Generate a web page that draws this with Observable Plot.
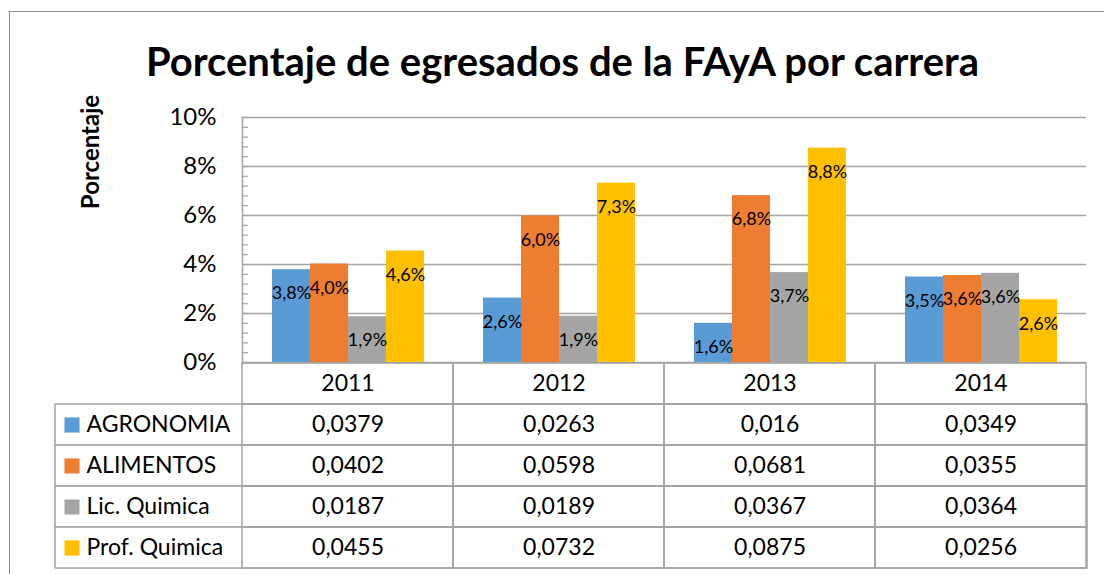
<!DOCTYPE html>
<html><head><meta charset="utf-8">
<script src="https://cdn.jsdelivr.net/npm/d3@7"></script>
<script src="https://cdn.jsdelivr.net/npm/@observablehq/plot@0.6"></script>
<style>
body{margin:0;background:#fff;font-family:Lato,"Open Sans",sans-serif;}
#wrap{position:relative;width:1104px;height:574px;overflow:hidden;background:#fff;}
#frame{position:absolute;left:9px;top:11px;width:1200px;height:700px;border:1.5px solid #8c8c8c;pointer-events:none;z-index:5;}
#title{position:absolute;left:0;top:31px;width:1125px;text-align:center;font-weight:bold;font-size:40px;line-height:60px;color:#000;}
#ylab{position:absolute;left:89px;top:152px;transform:translate(-50%,-50%) rotate(-90deg);font-weight:bold;font-size:24px;white-space:nowrap;color:#000;}
#chart{position:absolute;left:0;top:100px;z-index:2;}
#table{position:absolute;left:0;top:362px;z-index:1;}
</style></head>
<body>
<div id="wrap">
  <div id="frame"></div>
  <div id="title">Porcentaje de egresados de la FAyA por carrera</div>
  <div id="ylab">Porcentaje</div>
  <div id="table"></div>
  <div id="chart"></div>
</div>
<script>
const years = ["2011", "2012", "2013", "2014"];
const series = ["AGRONOMIA", "ALIMENTOS", "Lic. Quimica", "Prof. Quimica"];
const agronomia = [0.0379, 0.0263, 0.016, 0.0349];
const alimentos = [0.0402, 0.0598, 0.0681, 0.0355];
const licQuimica = [0.0187, 0.0189, 0.0367, 0.0364];
const profQuimica = [0.0455, 0.0732, 0.0875, 0.0256];
const colors = ["#5b9bd5", "#ed7d31", "#a5a5a5", "#ffc000"];
const yTicks = [0, 0.02, 0.04, 0.06, 0.08, 0.10];
const minorTicks = d3.range(0, 26).map(i => i * 0.004);

const values = [agronomia, alimentos, licQuimica, profQuimica];
const rows = series.flatMap((s, i) => years.map((y, j) => ({series: s, year: y, value: values[i][j]})));
const pct = v => (Math.round(v * 1000 + 1e-9) / 10).toFixed(1).replace(".", ",") + "%";
const gridColor = "#a3a3a3";
const font = "Lato, 'Open Sans', sans-serif";

const main = Plot.plot({
  width: 1104, height: 274,
  marginTop: 17, marginBottom: 12, marginLeft: 240, marginRight: 17,
  style: {background: "transparent", overflow: "visible", fontFamily: font, color: "#000"},
  fx: {domain: years, padding: 0, axis: null},
  x: {domain: series, paddingInner: 0, paddingOuter: 0.75, axis: null},
  y: {domain: [0, 0.1], axis: null},
  color: {domain: series, range: colors},
  marks: [
    Plot.gridY(yTicks, {stroke: gridColor, strokeOpacity: 1, strokeWidth: 1.5}),
    Plot.axisY(minorTicks, {tickSize: -6, tickFormat: () => "", stroke: gridColor, strokeWidth: 1.2, label: null}),
    Plot.axisY(yTicks, {tickSize: 0, tickPadding: 26, tickFormat: d => Math.round(d * 100) + "%", fontSize: 24, fill: "#000", label: null}),
    Plot.frame({anchor: "left", stroke: gridColor, strokeWidth: 1.5, facetAnchor: "left"}),
    Plot.barY(rows, {fx: "year", x: "series", y: "value", fill: "series"}),
    Plot.text(rows, {fx: "year", x: "series", y: "value", text: d => pct(d.value), dy: 24, fontSize: 18, fill: "#000"})
  ]
});
document.getElementById("chart").appendChild(main);

const table = Plot.plot({
  width: 1104, height: 212,
  marginTop: 0, marginBottom: 5, marginLeft: 55, marginRight: 17,
  style: {background: "transparent", overflow: "visible", fontFamily: font, color: "#000"},
  x: {type: "band", domain: years, range: [240, 1087], padding: 0, axis: null},
  y: {type: "band", domain: ["header", ...series], padding: 0, axis: null},
  color: {domain: series, range: colors},
  marks: [
    Plot.cell(series, {y: d => d, fill: "white", stroke: gridColor, strokeWidth: 1.5}),
    Plot.cell(years, {x: d => d, y: () => "header", fill: "none", stroke: gridColor, strokeWidth: 1.5}),
    Plot.cell(rows, {x: "year", y: "series", fill: "none", stroke: gridColor, strokeWidth: 1.5}),
    Plot.text(years, {x: d => d, y: () => "header", text: d => d, fontSize: 23, fill: "#000"}),
    Plot.text(rows, {x: "year", y: "series", text: d => String(d.value).replace(".", ","), fontSize: 23, fill: "#000"}),
    Plot.dot(series, {y: d => d, frameAnchor: "left", dx: 16.5, symbol: "square", fill: d => d, r: 8.5}),
    Plot.text(series, {y: d => d, text: d => d, frameAnchor: "left", textAnchor: "start", dx: 31, fontSize: 23, fill: "#000"})
  ]
});
document.getElementById("table").appendChild(table);
</script>
</body></html>
